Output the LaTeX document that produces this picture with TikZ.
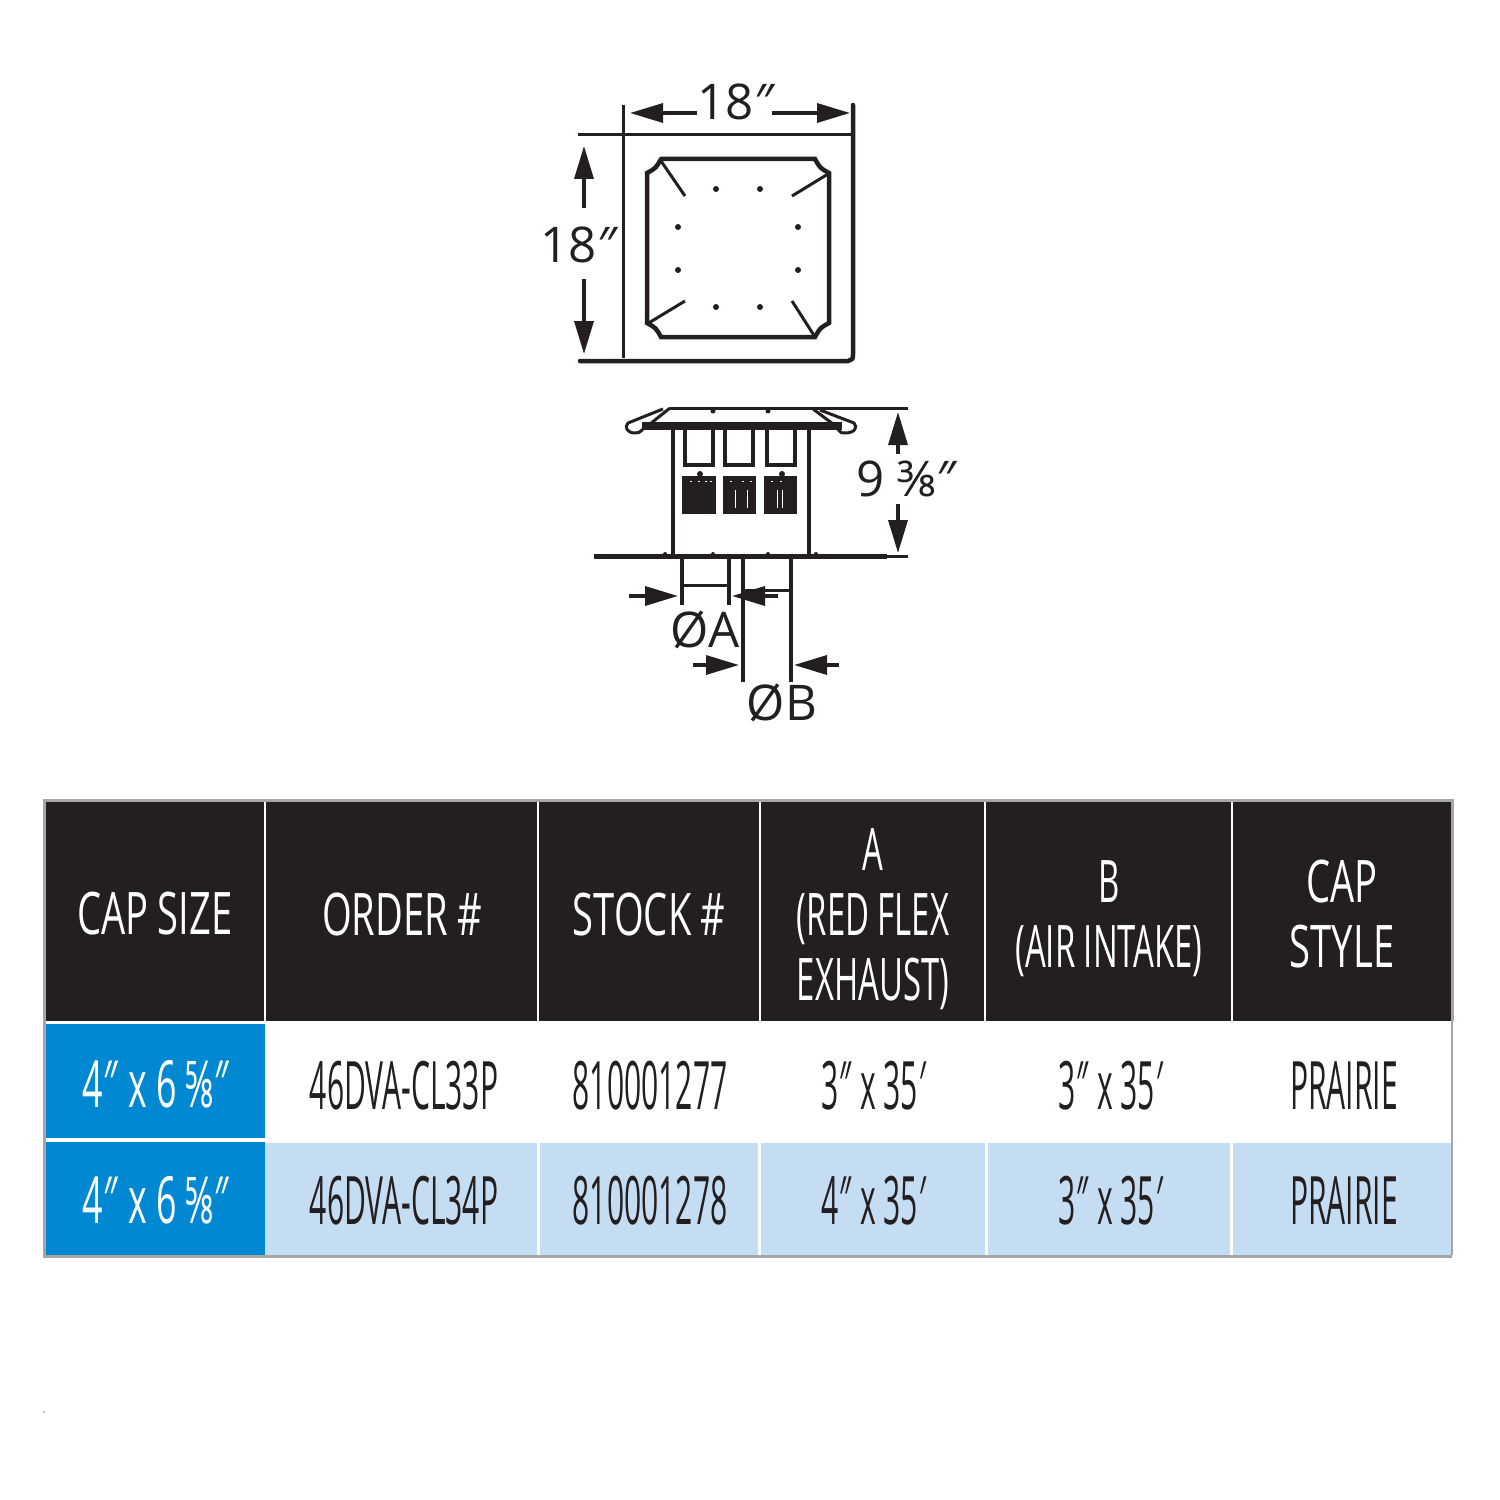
\documentclass[tikz,border=0pt]{standalone}
\usepackage{fontspec}
\setmainfont{Open Sans}
\newfontfamily\hdrfamily[FakeStretch=0.65,WordSpace=0.9]{Open Sans}
\newfontfamily\narrowfamily[FakeStretch=0.56]{Open Sans}
\newfontfamily\datafamily[FakeStretch=0.45]{Open Sans}
\newfontfamily\sizefamily[FakeStretch=0.55]{Open Sans}
\usetikzlibrary{arrows.meta}
\definecolor{inkblack}{HTML}{231F20}
\definecolor{capblue}{HTML}{0089D2}
\definecolor{rowblue}{HTML}{C5DDF3}
\newcommand{\dbl}{\textit{″}}
\newcommand{\sgl}{\textit{′}}
\tikzset{
  dim/.style={line width=0.35mm,-{Stealth[length=3.3mm,width=1.9mm,inset=0pt]},color=inkblack},
  part/.style={line width=0.45mm,color=inkblack},
  thin part/.style={line width=0.3mm,color=inkblack},
  label/.style={font=\fontsize{14}{16}\selectfont,color=inkblack,inner sep=0},
  hdr/.style={font=\hdrfamily\fontsize{16.7}{18.4}\selectfont,color=white,align=center,inner sep=0},
  narrow hdr/.style={hdr,font=\narrowfamily\fontsize{16.7}{18.4}\selectfont},
  datum/.style={font=\datafamily\fontsize{19}{21}\selectfont,color=inkblack,inner sep=0},
  blue datum/.style={font=\sizefamily\fontsize{18.5}{21}\selectfont,color=white,inner sep=0}
}
\begin{document}
\begin{tikzpicture}[x=0.1mm,y=-0.1mm]
  \useasboundingbox (0,0) rectangle (1500,1500);

  % top view
  \draw[thin part] (578,135) -- (851,135);
  \draw[part,line width=0.3mm] (623,105) -- (623,358);
  \draw[part,line cap=round] (853,105) -- (853,354) .. controls (853,359) .. (848,361) -- (580,361);
  \draw[part,line cap=round] (661,159) -- (815,159) .. controls (820,168) .. (829,173) -- (829,323)
    .. controls (820,328) .. (815,337) -- (661,337) .. controls (656,328) .. (647,323) -- (647,173)
    .. controls (656,168) .. (661,159);
  \draw[thin part] (661,161) -- (685,196);
  \draw[thin part] (828,174) -- (792,196);
  \draw[thin part] (647,324) -- (685,301);
  \draw[thin part] (815,337) -- (792,301);
  \foreach \x in {716,760} {
    \fill[inkblack] (\x,189) circle (0.3mm);
    \fill[inkblack] (\x,307) circle (0.3mm);
  }
  \foreach \y in {227,270} {
    \fill[inkblack] (678,\y) circle (0.3mm);
    \fill[inkblack] (798,\y) circle (0.3mm);
  }

  % top view dimensions
  \node (width) at (737,102) [label]{18\dbl};
  \node (depth) at (580,245) [label]{18\dbl};
  \coordinate (wl) at (697,113);
  \coordinate (wr) at (772,113);
  \coordinate (wltip) at (630,113);
  \coordinate (wrtip) at (850,113);
  \coordinate (dt) at (584,208);
  \coordinate (db) at (584,279);
  \coordinate (dttip) at (584,146);
  \coordinate (dbtip) at (584,354);
  \draw[dim] (wl) -- (wltip);
  \draw[dim] (wr) -- (wrtip);
  \draw[dim] (dt) -- (dttip);
  \draw[dim] (db) -- (dbtip);

  % side view cap
  \draw[thin part] (670,408) -- (908,408);
  \draw[part,line width=0.8mm] (642,426) -- (842,426);
  \draw[thin part] (670,408) -- (650,424);
  \draw[thin part] (813,409) -- (833,424);
  \draw[thin part,line join=round] (663,409) -- (628,423) .. controls (624,427) and (627,433) .. (635,433)
    .. controls (639,433) .. (644,428);
  \draw[thin part,line join=round] (820,410) -- (854,423) .. controls (858,427) and (855,433) .. (845,433)
    .. controls (841,433) .. (837,428);
  \foreach \x in {713,768} {
    \fill[inkblack] (\x,411) circle (0.25mm);
  }

  % side view body
  \draw[part] (673,426) -- (673,556);
  \draw[part] (809,426) -- (809,556);
  \foreach \l/\r in {685/713,725/753,767/795} {
    \draw[part] (\l,428) -- (\l,465) -- (\r,465) -- (\r,428);
  }
  \fill[inkblack] (682,476) rectangle (716,514);
  \fill[inkblack] (723,476) rectangle (756,514);
  \fill[inkblack] (764,476) rectangle (797,514);
  \fill[inkblack] (700,474) circle (0.3mm);
  \fill[inkblack] (782,474) circle (0.3mm);
  \foreach \x in {735,747,777,782} {
    \draw[white,line width=0.05mm] (\x,490) -- (\x,508);
  }
  \foreach \x in {690,698,705,710,730,742,750,771,780} {
    \draw[white,line width=0.05mm] (\x,481) -- (\x+2,481);
  }

  % roof line and pipes
  \draw[part,line width=0.5mm] (594,556) -- (887,556);
  \draw[thin part] (887,556) -- (908,556);
  \foreach \x in {665,713,768,816} {
    \fill[inkblack] (\x,554) circle (0.2mm);
  }
  \draw[part] (682,556) -- (682,605);
  \draw[part] (729,556) -- (729,605);
  \draw[thin part] (682,585) -- (729,585);
  \draw[part] (743,556) -- (743,682);
  \draw[part] (791,556) -- (791,682);
  \draw[thin part] (743,590) -- (791,590);

  % side view dimensions
  \node (height) at (907,479) [label]{9 ⅜\dbl};
  \node (diaA) at (705,630) [label]{ØA};
  \node (diaB) at (782,703) [label]{ØB};
  \coordinate (ht) at (898,454);
  \coordinate (hb) at (898,504);
  \coordinate (httip) at (898,412);
  \coordinate (hbtip) at (898,553);
  \coordinate (al) at (629,596);
  \coordinate (ar) at (778,596);
  \coordinate (altip) at (678,596);
  \coordinate (artip) at (732,596);
  \coordinate (bl) at (693,665);
  \coordinate (br) at (839,665);
  \coordinate (bltip) at (739,665);
  \coordinate (brtip) at (794,665);
  \draw[dim] (ht) -- (httip);
  \draw[dim] (hb) -- (hbtip);
  \draw[dim] (al) -- (altip);
  \draw[dim] (ar) -- (artip);
  \draw[dim] (bl) -- (bltip);
  \draw[dim] (br) -- (brtip);

  % table
  \fill[inkblack] (44,800) rectangle (1452,1021);
  \foreach \x in {265,538,760,985,1232} {
    \draw[white,line width=0.06mm*3] (\x,800) -- (\x,1021);
  }
  \fill[capblue] (44,1024) rectangle (265,1138);
  \fill[capblue] (44,1142) rectangle (265,1256);
  \fill[rowblue] (265,1143) rectangle (1452,1256);
  \foreach \x in {538,759,986,1231} {
    \draw[white,line width=0.3mm] (\x,1143) -- (\x,1256);
  }
  \draw[gray!70,line width=0.3mm] (44,1021) -- (44,800) -- (1452,800) -- (1452,1021);
  \draw[gray!70,line width=0.15mm] (1452,1021) -- (1452,1255);
  \draw[gray!70,line width=0.3mm] (44,1021) -- (44,1256) -- (1452,1256);

  \node (capsize) at (155,914) [hdr]{CAP SIZE};
  \node (order) at (402,914) [hdr]{ORDER \#};
  \node (stock) at (649,914) [hdr]{STOCK \#};
  \node (colA) at (873,919) [narrow hdr]{A\\(RED FLEX\\EXHAUST)};
  \node (colB) at (1109,919) [narrow hdr]{B\\(AIR INTAKE)};
  \node (style) at (1342,914) [hdr]{CAP\\STYLE};

  \node (size1) at (156,1084) [blue datum]{4\dbl{} x 6 ⅝\dbl};
  \node (order1) at (404,1086) [datum]{46DVA-CL33P};
  \node (stock1) at (650,1086) [datum]{810001277};
  \node (a1) at (874,1086) [datum]{3\dbl{} x 35\sgl};
  \node (b1) at (1111,1086) [datum]{3\dbl{} x 35\sgl};
  \node (style1) at (1344,1086) [datum]{PRAIRIE};

  \node (size2) at (156,1200) [blue datum]{4\dbl{} x 6 ⅝\dbl};
  \node (order2) at (404,1201) [datum]{46DVA-CL34P};
  \node (stock2) at (650,1201) [datum]{810001278};
  \node (a2) at (874,1201) [datum]{4\dbl{} x 35\sgl};
  \node (b2) at (1111,1201) [datum]{3\dbl{} x 35\sgl};
  \node (style2) at (1344,1201) [datum]{PRAIRIE};

  \fill[gray] (44,1412) circle (0.08mm);
\end{tikzpicture}
\end{document}
